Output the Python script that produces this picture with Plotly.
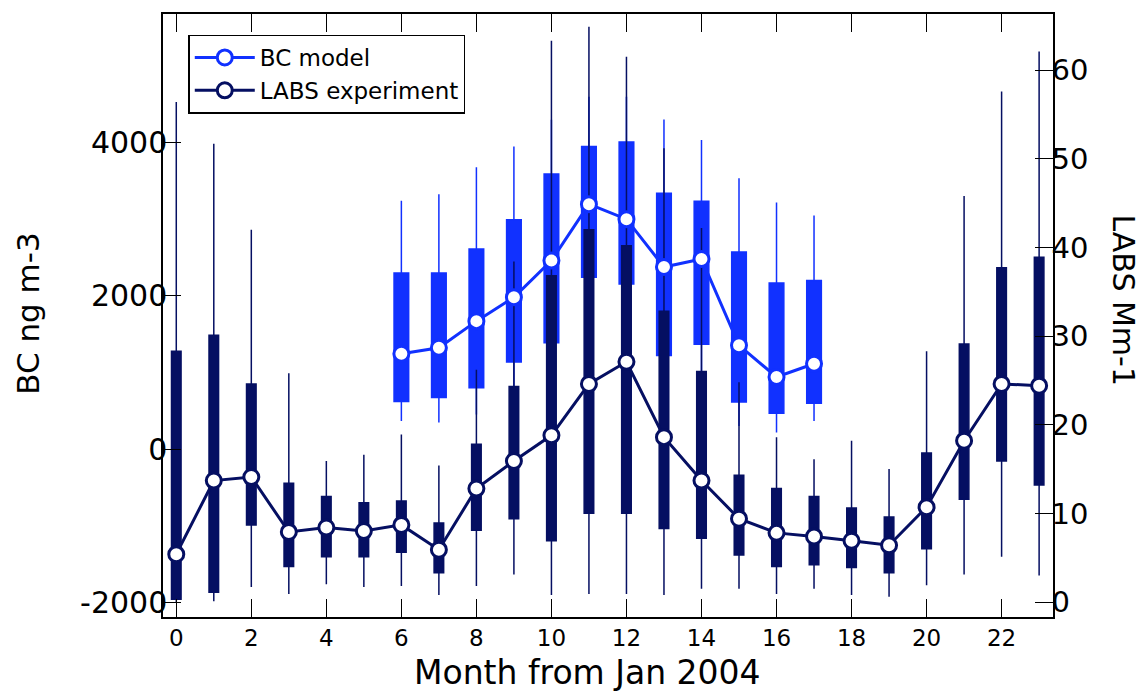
import plotly.graph_objects as go

# ---------------- data ----------------
months = list(range(24))
x_ticks = list(range(0, 23, 2))

# LABS experiment (right axis, Mm-1)
labs_center = [5.4, 13.7, 14.1, 7.9, 8.4, 8.0, 8.7, 5.9, 12.8, 15.9, 18.8, 24.6,
               27.1, 18.6, 13.7, 9.4, 7.8, 7.4, 6.9, 6.4, 10.7, 18.2, 24.6, 24.4]
labs_q3 = [28.3, 30.1, 24.6, 13.4, 11.9, 11.2, 11.4, 8.9, 17.8, 24.3, 36.8, 42.0,
           40.2, 32.8, 26.0, 14.3, 12.8, 11.9, 10.6, 9.6, 16.8, 29.1, 37.7, 38.9]
labs_q1 = [0.3, 1.1, 8.7, 4.0, 5.1, 5.1, 5.6, 3.3, 8.1, 9.4, 6.9, 10.0,
           10.0, 8.3, 7.2, 5.3, 4.0, 4.2, 3.9, 3.3, 6.0, 11.6, 15.9, 13.2]
labs_max = [56.4, 51.7, 42.0, 25.8, 15.9, 16.6, 18.9, 15.4, 26.2, 38.4, 63.3, 64.9,
            61.5, 51.2, 42.2, 24.8, 18.6, 16.1, 18.2, 15.0, 28.3, 45.8, 57.6, 62.1]
labs_min = [0.0, 0.1, 1.7, 0.9, 2.0, 1.7, 1.8, 0.8, 1.8, 3.1, 0.8, 0.9,
            0.9, 0.8, 1.5, 1.5, 0.9, 1.5, 0.8, 0.6, 1.9, 3.1, 5.1, 3.0]

# BC model (left axis, ng m-3)
bc_months = list(range(6, 18))
bc_center = [1244, 1322, 1670, 1982, 2460, 3197, 3001, 2377, 2481, 1354, 941, 1114]
bc_q3 = [2299, 2299, 2611, 2994, 3592, 3948, 4009, 3340, 3236, 2572, 2168, 2200]
bc_q1 = [620, 672, 802, 1136, 1388, 2243, 2156, 1223, 1367, 616, 469, 599]
bc_max = [3241, 3327, 3678, 3948, 4300, 4600, 4600, 4303, 4035, 3535, 3219, 3050]
bc_min = [367, 346, 450, 700, 800, 1500, 1400, 700, 800, 300, 216, 368]

left_ticks = [-2000, 0, 2000, 4000]
left_tick_text = ["-2000", "0", "2000", "4000"]
right_ticks = [0, 10, 20, 30, 40, 50, 60]

# ---------------- style ----------------
BLUE = "#1131FF"
NAVY = "#050F62"
FONT = "DejaVu Sans"
left_range = [-2192, 5679]
right_range = [-1.69, 66.33]

fig = go.Figure()

fig.add_trace(go.Box(
    x=bc_months, q1=bc_q1, median=bc_center, q3=bc_q3,
    lowerfence=bc_min, upperfence=bc_max,
    width=0.39, whiskerwidth=0, boxpoints=False,
    line=dict(color=BLUE, width=1.5), fillcolor=BLUE,
    showlegend=False, hoverinfo="skip", yaxis="y"))

fig.add_trace(go.Box(
    x=months, q1=labs_q1, median=labs_center, q3=labs_q3,
    lowerfence=labs_min, upperfence=labs_max,
    width=0.255, whiskerwidth=0, boxpoints=False,
    line=dict(color=NAVY, width=1.5), fillcolor=NAVY,
    showlegend=False, hoverinfo="skip", yaxis="y2"))

fig.add_trace(go.Scatter(
    x=months, y=labs_center, mode="lines+markers", name="LABS experiment",
    line=dict(color=NAVY, width=3),
    marker=dict(symbol="circle", size=15, color="white", line=dict(color=NAVY, width=3)),
    legendrank=2, legendgroup="b", yaxis="y2"))

fig.add_trace(go.Scatter(
    x=bc_months, y=bc_center, mode="lines+markers", name="BC model",
    line=dict(color=BLUE, width=3),
    marker=dict(symbol="circle", size=15, color="white", line=dict(color=BLUE, width=3)),
    legendrank=1, legendgroup="a", yaxis="y3"))

axis_common = dict(showline=True, linecolor="black", linewidth=1.5,
                   ticks="inside", ticklen=18, tickwidth=1.3, tickcolor="black",
                   showgrid=False, zeroline=False)

fig.update_layout(
    width=1146, height=694,
    margin=dict(l=163, r=93, t=12, b=77, pad=0),
    paper_bgcolor="white", plot_bgcolor="white",
    font=dict(family=FONT, color="black"),
    boxmode="overlay",
    xaxis=dict(range=[-0.354, 23.37], tickvals=x_ticks, mirror="ticks",
               tickfont=dict(size=23), ticklabelstandoff=0, **axis_common),
    yaxis=dict(range=left_range, tickvals=left_ticks, ticktext=left_tick_text,
               tickfont=dict(size=30), ticklabelstandoff=-12, **axis_common),
    yaxis2=dict(range=right_range, tickvals=right_ticks, overlaying="y", side="right",
                tickfont=dict(size=29), ticklabelstandoff=-9, **axis_common),
    yaxis3=dict(range=left_range, overlaying="y", visible=False),
    legend=dict(x=0.0284, y=0.966, xanchor="left", yanchor="top",
                bgcolor="white", bordercolor="black", borderwidth=1.5,
                font=dict(size=23, family=FONT), traceorder="grouped",
                tracegroupgap=0, itemwidth=60),
    showlegend=True,
    annotations=[
        dict(text="Month from Jan 2004", xref="paper", yref="paper",
             x=0.4775, y=-0.1278, xanchor="center", yanchor="bottom",
             showarrow=False, font=dict(size=33)),
        dict(text="BC ng m-3", xref="paper", yref="paper",
             x=-0.152, y=0.504, xanchor="center", yanchor="middle",
             textangle=-90, showarrow=False, font=dict(size=31)),
        dict(text="LABS Mm-1", xref="paper", yref="paper",
             x=1.0798, y=0.525, xanchor="center", yanchor="middle",
             textangle=90, showarrow=False, font=dict(size=30)),
    ],
)

fig.write_html("out.html")
